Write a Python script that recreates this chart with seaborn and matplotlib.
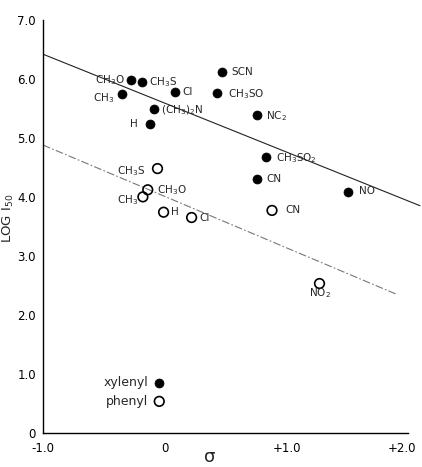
import matplotlib
matplotlib.use("Agg")
import matplotlib.pyplot as plt
import matplotlib.transforms as mtransforms
import seaborn as sns
import pandas as pd

# ---- data ----
xyl_labels = ["CH$_3$O", "CH$_3$S", "Cl", "CH$_3$", "(CH$_3$)$_2$N", "H",
              "SCN", "CH$_3$SO", "NC$_2$", "CH$_3$SO$_2$", "CN", "NO"]
xyl_sigma = [-0.28, -0.19, 0.08, -0.35, -0.09, -0.12, 0.47, 0.43, 0.76, 0.83, 0.76, 1.50]
xyl_log = [5.98, 5.95, 5.78, 5.74, 5.49, 5.24, 6.11, 5.76, 5.39, 4.68, 4.31, 4.09]

ph_labels = ["CH$_3$S", "CH$_3$O", "CH$_3$", "H", "Cl", "CN", "NO$_2$"]
ph_sigma = [-0.06, -0.14, -0.18, -0.01, 0.22, 0.88, 1.27]
ph_log = [4.48, 4.12, 4.00, 3.74, 3.65, 3.77, 2.53]

upper_x = [-1.0, 2.095]
upper_y = [6.42, 3.85]
lower_x = [-1.0, 1.90]
lower_y = [4.88, 2.35]

x_ticks = [-1.0, 0.0, 1.0, 2.0]
x_tick_labels = ["-1.0", "0", "+1.0", "+2.0"]
y_ticks = [0, 1, 2, 3, 4, 5, 6, 7]
y_tick_labels = ["0", "1.0", "2.0", "3.0", "4.0", "5.0", "6.0", "7.0"]

# ---- label offsets (pixels: dx, dy downwards positive, ha) ----
xyl_off = [(-6, 0, "right"), (7, 0, "left"), (8, 0, "left"), (-8, 4, "right"),
           (7, 1, "left"), (-12, 0, "right"), (9, 0, "left"), (11, 1, "left"),
           (9, 1, "left"), (10, 1, "left"), (9, 0, "left"), (11, -1, "left")]
ph_off = [(-12, 3, "right"), (9, 0, "left"), (-5, 3, "right"), (7, 0, "left"),
          (8, 0, "left"), (13, 0, "left"), (0, 10, "center")]

sns.set_theme(style="white")
plt.rcParams["font.family"] = ["DejaVu Sans"]

fig = plt.figure(figsize=(4.22, 4.67), dpi=100)
ax = fig.add_axes([43 / 422, 1 - 432.7 / 467, 377.6 / 422, 412.7 / 467])

df_x = pd.DataFrame({"sigma": xyl_sigma, "log": xyl_log})
df_p = pd.DataFrame({"sigma": ph_sigma, "log": ph_log})

sns.lineplot(x=upper_x, y=upper_y, ax=ax, color="#222222", linewidth=0.8,
             estimator=None)
sns.lineplot(x=lower_x, y=lower_y, ax=ax, color="#777777", linewidth=0.8,
             estimator=None, linestyle=(0, (7, 2, 1.5, 2)))

sns.scatterplot(data=df_x, x="sigma", y="log", ax=ax, s=42, color="black",
                edgecolor="black", linewidth=0.5, label="xylenyl", zorder=3)
sns.scatterplot(data=df_p, x="sigma", y="log", ax=ax, s=48, marker="o",
                facecolors="none", edgecolor="black", linewidth=1.2,
                label="phenyl", zorder=3)

px2pt = 0.72
for lab, xv, yv, (dx, dy, ha) in zip(xyl_labels, xyl_sigma, xyl_log, xyl_off):
    ax.annotate(lab, (xv, yv), xytext=(dx * px2pt, -dy * px2pt),
                textcoords="offset points", ha=ha, va="center", fontsize=7.5)
for lab, xv, yv, (dx, dy, ha) in zip(ph_labels, ph_sigma, ph_log, ph_off):
    ax.annotate(lab, (xv, yv), xytext=(dx * px2pt, -dy * px2pt),
                textcoords="offset points", ha=ha, va="center", fontsize=7.5)

ax.set_xlim(-1.0, 2.1)
ax.set_ylim(0, 7.0)
ax.set_xticks(x_ticks)
ax.set_xticklabels(x_tick_labels, fontsize=8.5)
ax.set_yticks(y_ticks)
ax.set_yticklabels(y_tick_labels, fontsize=8.5)
ax.tick_params(axis="y", direction="out", length=4, width=1, pad=1, colors="black")
ax.tick_params(axis="x", direction="in", length=3, width=1, pad=7, colors="black")

# nudge the last x tick label so it stays inside the figure
last = ax.get_xticklabels()[-1]
last.set_transform(last.get_transform() +
                   mtransforms.ScaledTranslation(-6 / 100, 0, fig.dpi_scale_trans))

for s in ["top", "right"]:
    ax.spines[s].set_visible(False)
for s in ["left", "bottom"]:
    ax.spines[s].set_color("black")
    ax.spines[s].set_linewidth(1.0)
ax.spines["bottom"].set_bounds(-1.0, 2.0)
ax.spines["left"].set_bounds(0, 7.0)

ax.set_xlabel("σ", fontsize=13)
ax.xaxis.set_label_coords((210 - 43) / 377.6, (432.7 - 448) / 412.7)
ax.set_ylabel("LOG I$_{50}$", fontsize=9.5)
ax.yaxis.set_label_coords((16 - 43) / 377.6, 0.52)

ax.legend(loc="center right", bbox_to_anchor=((165.5 - 43) / 377.6, 0.099),
          frameon=False, markerfirst=False, fontsize=9, handlelength=1.0,
          handletextpad=0.4, borderpad=0, borderaxespad=0, labelspacing=0.45)

fig.savefig("out.png", dpi=100, facecolor="white")
